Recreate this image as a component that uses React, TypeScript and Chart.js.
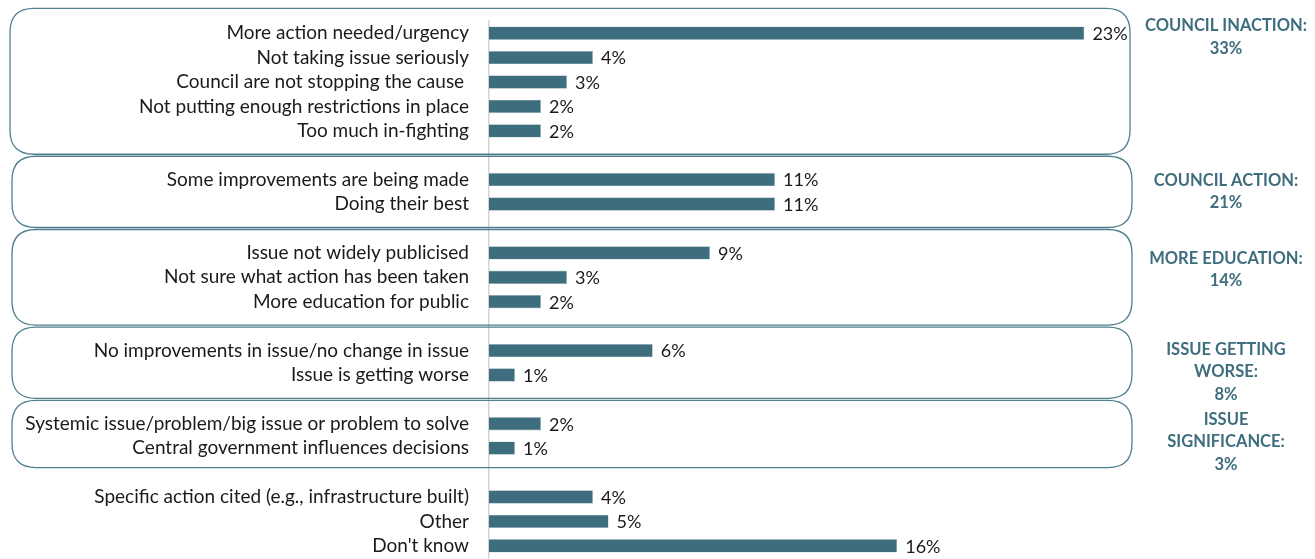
import React, { useEffect, useRef } from "react";
import { Chart, registerables } from "chart.js";

Chart.register(...registerables);

const categories: string[] = [
  "More action needed/urgency",
  "Not taking issue seriously",
  "Council are not stopping the cause ",
  "Not putting enough restrictions in place",
  "Too much in-fighting",
  "",
  "Some improvements are being made",
  "Doing their best",
  "",
  "Issue not widely publicised",
  "Not sure what action has been taken",
  "More education for public",
  "",
  "No improvements in issue/no change in issue",
  "Issue is getting worse",
  "",
  "Systemic issue/problem/big issue or problem to solve",
  "Central government influences decisions",
  "",
  "Specific action cited (e.g., infrastructure built)",
  "Other",
  "Don't know",
];

const values: (number | null)[] = [
  22.9, 4.0, 3.0, 2.0, 2.0, null,
  11.0, 11.0, null,
  8.5, 3.0, 2.0, null,
  6.3, 1.0, null,
  2.0, 1.0, null,
  4.0, 4.6, 15.7,
];

// groups: first index, last index, label lines, anchor index for label centre
const groupFirst: number[] = [0, 6, 9, 13, 16];
const groupLast: number[] = [4, 7, 11, 14, 17];
const groupLabels: string[][] = [
  ["COUNCIL INACTION:", "33%"],
  ["COUNCIL ACTION:", "21%"],
  ["MORE EDUCATION:", "14%"],
  ["ISSUE GETTING", "WORSE:", "8%"],
  ["ISSUE", "SIGNIFICANCE:", "3%"],
];
const groupAnchor: number[] = [0.16, 6.49, 9.68, 13.88, 16.74];

const BAR = "#3e6d7d";
const FONT = "Lato, 'Noto Sans', sans-serif";

function roundRect(ctx: CanvasRenderingContext2D, x: number, y: number, w: number, h: number, r: number) {
  ctx.beginPath();
  ctx.moveTo(x + r, y);
  ctx.lineTo(x + w - r, y);
  ctx.quadraticCurveTo(x + w, y, x + w, y + r);
  ctx.lineTo(x + w, y + h - r);
  ctx.quadraticCurveTo(x + w, y + h, x + w - r, y + h);
  ctx.lineTo(x + r, y + h);
  ctx.quadraticCurveTo(x, y + h, x, y + h - r);
  ctx.lineTo(x, y + r);
  ctx.quadraticCurveTo(x, y, x + r, y);
  ctx.closePath();
}

const groupPlugin = {
  id: "groups",
  beforeDatasetsDraw(chart: any) {
    const { ctx, chartArea, scales } = chart;
    const y = scales.y;
    const step = y.getPixelForValue(1) - y.getPixelForValue(0);
    ctx.save();
    ctx.strokeStyle = "#4f7f8f";
    ctx.lineWidth = 1.3;
    groupFirst.forEach((f, i) => {
      const top = y.getPixelForValue(f) - step + (i === 0 ? -0.5 : 1);
      const bottom = y.getPixelForValue(groupLast[i]) + step - (i === 4 ? 5 : 1);
      const left = i === 0 ? 10 : 12;
      const right = chartArea.right - (i === 0 ? 9 : 7);
      roundRect(ctx, left, top, right - left, bottom - top, 24);
      ctx.stroke();
    });
    ctx.restore();
  },
  afterDatasetsDraw(chart: any) {
    const { ctx, chartArea, scales } = chart;
    const x = scales.x;
    const y = scales.y;
    ctx.save();
    // value labels
    ctx.font = `18px ${FONT}`;
    ctx.fillStyle = "#1a1a1a";
    ctx.textAlign = "left";
    ctx.textBaseline = "middle";
    values.forEach((v, i) => {
      if (v == null) return;
      ctx.fillText(`${Math.round(v)}%`, x.getPixelForValue(v) + 8, y.getPixelForValue(i) + 1);
    });
    // group labels
    ctx.font = `bold 16.5px ${FONT}`;
    ctx.fillStyle = BAR;
    ctx.textAlign = "center";
    const cx = 1226;
    groupLabels.forEach((lines, i) => {
      const c = y.getPixelForValue(groupAnchor[i]);
      const lh = 22.5;
      lines.forEach((t, j) => {
        ctx.fillText(t, cx, c + (j - (lines.length - 1) / 2) * lh);
      });
    });
    ctx.restore();
  },
};

export default function App() {
  const ref = useRef<HTMLCanvasElement>(null);
  useEffect(() => {
    document.body.style.margin = "0";
    const chart = new Chart(ref.current!, {
      type: "bar",
      data: {
        labels: categories,
        datasets: [
          {
            data: values,
            backgroundColor: BAR,
            borderColor: "#a9c2ca",
            borderWidth: 0.6,
            barPercentage: 0.55,
            categoryPercentage: 1,
          },
        ],
      },
      options: {
        indexAxis: "y",
        animation: false,
        responsive: false,
        maintainAspectRatio: false,
        layout: { padding: { top: 21, bottom: 1, left: 0, right: 176 } },
        plugins: { legend: { display: false }, tooltip: { enabled: false } },
        scales: {
          x: { display: false, min: 0, max: 25 },
          y: {
            grid: { display: false, drawTicks: false },
            border: { display: true, color: "#d4d4d4", width: 1.5 },
            ticks: { color: "#1a1a1a", font: { size: 19, family: FONT }, padding: 20, autoSkip: false },
            afterFit: (s: any) => {
              s.width = 489;
              s.paddingTop = 0;
              s.paddingBottom = 0;
            },
          },
        },
      },
      plugins: [groupPlugin],
    });
    return () => chart.destroy();
  }, []);
  return <canvas ref={ref} width={1315} height={559} style={{ display: "block" }} />;
}
